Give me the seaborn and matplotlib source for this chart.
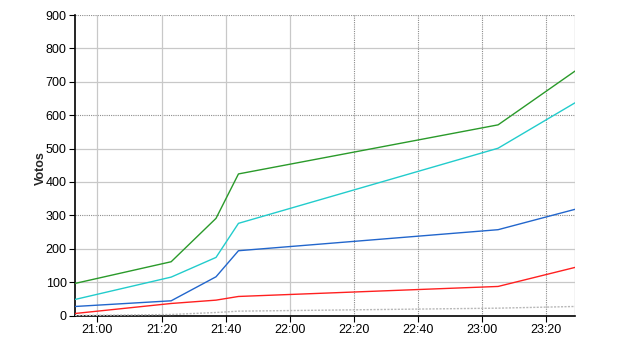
import matplotlib
matplotlib.use("Agg")
import matplotlib.pyplot as plt
import matplotlib.dates as mdates
import seaborn as sns
import pandas as pd

times = ["20:53", "21:23", "21:37", "21:44", "23:05", "23:29"]
green = [96, 161, 291, 424, 571, 732]
cyan = [48, 115, 174, 276, 501, 637]
blue = [27, 44, 116, 194, 257, 318]
red = [6, 36, 46, 57, 87, 144]
gray = [0, 3, 9, 13, 22, 27]

series = {"S1": green, "S2": cyan, "S3": blue, "S4": red, "S5": gray}
colors = {"S1": "#2a9a2a", "S2": "#22cccc", "S3": "#2266cc", "S4": "#ff2020", "S5": "#b8b8b8"}

ts = pd.to_datetime(["2024-01-01 " + t for t in times])
rows = []
for name, vals in series.items():
    for t, v in zip(ts, vals):
        rows.append({"time": t, "value": v, "serie": name})
df = pd.DataFrame(rows)

sns.set_theme(style="white")
plt.rcParams["font.family"] = ["Liberation Sans", "DejaVu Sans"]

fig = plt.figure(figsize=(6.4, 3.5), dpi=100)
ax = fig.add_axes([75 / 640, 1 - 315.5 / 350, 500 / 640, 300.5 / 350])

sns.lineplot(data=df, x="time", y="value", hue="serie", palette=colors,
             linewidth=1.0, legend=False, ax=ax, zorder=3)
# the lowest series is drawn dotted in the reference
ax.lines[-1].set_linestyle((0, (1.5, 1)))

xmin = pd.Timestamp("2024-01-01 20:53")
xmax = pd.Timestamp("2024-01-01 23:29")
ax.set_xlim(xmin, xmax)
ax.set_ylim(0, 900)
ax.set_yticks(range(0, 901, 100))
ax.xaxis.set_major_locator(mdates.MinuteLocator(byminute=[0, 20, 40]))
ax.xaxis.set_major_formatter(mdates.DateFormatter("%H:%M"))

# gridlines
for y in range(100, 901, 100):
    if y % 300 == 0:
        ax.axhline(y, color="#8c8c8c", lw=0.8, ls=(0, (1, 1)), zorder=1)
    else:
        ax.axhline(y, color="#c8c8c8", lw=0.9, zorder=1)
dotted_x = ["22:20", "22:40", "23:00", "23:20"]
for hm in ["21:00", "21:20", "21:40", "22:00", "22:20", "22:40", "23:00", "23:20"]:
    t = pd.Timestamp("2024-01-01 " + hm)
    if hm in dotted_x:
        ax.axvline(t, color="#8c8c8c", lw=0.8, ls=(0, (1, 1)), zorder=1)
    else:
        ax.axvline(t, color="#c8c8c8", lw=0.9, zorder=1)
ax.axvline(xmax, color="#c8c8c8", lw=1.0, zorder=1)

for s in ["top", "right"]:
    ax.spines[s].set_visible(False)
for s in ["left", "bottom"]:
    ax.spines[s].set_color("black")
    ax.spines[s].set_linewidth(1.2)

ax.tick_params(axis="both", which="major", length=4, width=0.8, color="black",
               labelsize=9, labelcolor="black", bottom=True, left=True, pad=2)
ax.set_xlabel("")
ax.set_ylabel("Votos", fontsize=9, fontweight="bold")
ax.yaxis.set_label_coords(-0.056, 0.49)

fig.savefig("out.png", dpi=100)
